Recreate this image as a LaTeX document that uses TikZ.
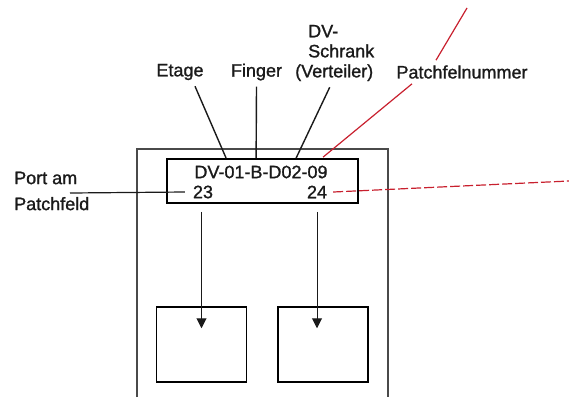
\documentclass[tikz,border=0pt]{standalone}
\usepackage{fontspec}
\setmainfont{Liberation Sans}
\newfontfamily\lblfont{Liberation Sans}[FakeBold=1.2]
\usepackage{tikz}
\usetikzlibrary{arrows.meta,positioning,calc}
\definecolor{Ink}{HTML}{1A1A1A}
\definecolor{Frame}{HTML}{4A4A4A}
\definecolor{Mark}{HTML}{C8202E}

\begin{document}
\begin{tikzpicture}[
  x=1pt,y=-1pt,
  every node/.style={font=\lblfont\fontsize{18}{20}\selectfont,text=Ink},
  lbltxt/.style={inner sep=0pt},
  labelbox/.style={draw=black,line width=1.8pt,minimum width=191pt,minimum height=44pt,inner sep=0pt},
  jackbox/.style={draw=black,line width=1.5pt,minimum width=90pt,minimum height=75pt,inner sep=0pt},
  leader/.style={line width=1.4pt,draw=Ink},
  redline/.style={line width=1.2pt,draw=Mark},
  arrow/.style={-{Triangle[length=10pt,width=10pt]},line width=1pt,draw=Ink}
]
\useasboundingbox (0,0) rectangle (569,397);
% panel
\draw[Frame,line width=1.5pt] (137,397) -- (137,149) -- (388,149) -- (388,397);
\node[labelbox] (lbl) at (262.5,181) {};
\node[lbltxt] (code) at (261,172) {DV-01-B-D02-09};
\node[lbltxt] (p23) at (203,192) {23};
\node[lbltxt] (p24) at (317,192) {24};
\node[jackbox] (jackL) at (201.5,344.5) {};
\node[jackbox] (jackR) at (323,344.5) {};
% labels
\node[lbltxt] (etage) at (180,72) {Etage};
\node[lbltxt] (finger) at (256.5,72) {Finger};
\node[lbltxt,anchor=west,align=left] (vert) at (295,53) {\hspace*{13pt}DV-\\\hspace*{13pt}Schrank\\(Verteiler)};
\node[lbltxt] (patch) at (462,72) {Patchfelnummer};
\node[lbltxt,anchor=west,align=left,font=\lblfont\fontsize{18}{26}\selectfont] (port) at (14,191) {Port am\\Patchfeld};
\coordinate (portA) at (70,193);
\coordinate (farR) at (569,181);
\coordinate (farT) at (467,8);
% leaders
\draw[leader] ([xshift=15pt,yshift=-6pt]etage.south) -- ([xshift=60pt]lbl.north west);
\draw[leader] ([yshift=-6pt]finger.south) -- ([xshift=90pt]lbl.north west);
\draw[leader] ([xshift=-5pt,yshift=-6pt]vert.south) -- ([xshift=130pt]lbl.north west);
\draw[redline] ([xshift=-50pt,yshift=-5pt]patch.south) -- ([xshift=157pt,yshift=1pt]lbl.north west);
\draw[redline] ([xshift=-26pt,yshift=5pt]patch.north) -- (farT);
\draw[leader,line width=1.2pt] (portA) -- ([xshift=-8pt]p23.west);
\draw[redline,dash pattern=on 10pt off 3pt] ([xshift=6pt]p24.east) -- (farR);
% ports to jacks
\draw[arrow] ([yshift=-8pt]lbl.south -| jackL) -- ([yshift=-22pt]jackL.north);
\draw[arrow] ([yshift=-8pt]lbl.south -| p24) -- ([yshift=-22pt]jackL.north -| p24);
\end{tikzpicture}
\end{document}
